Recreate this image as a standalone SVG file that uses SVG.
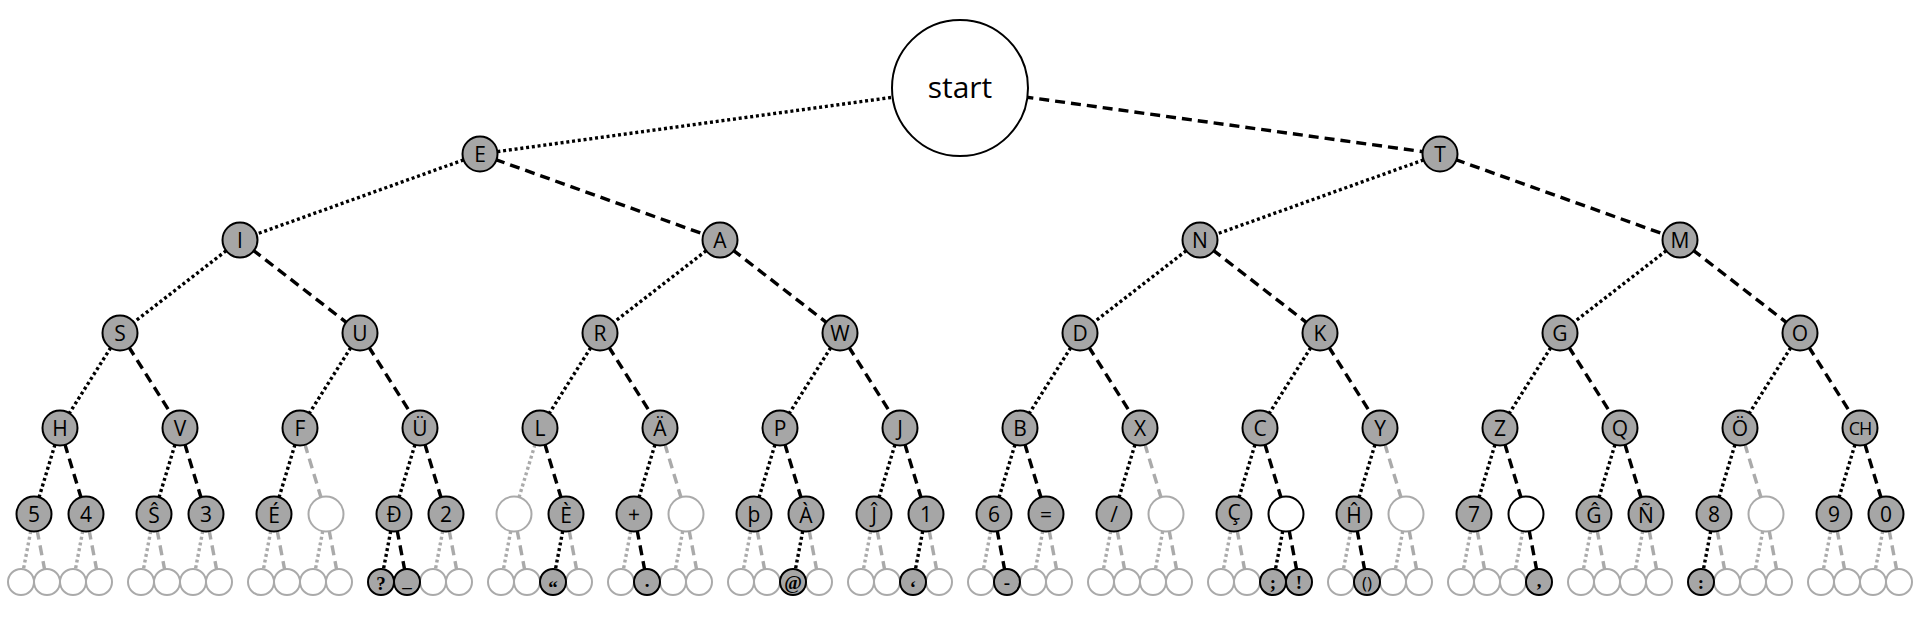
<svg xmlns="http://www.w3.org/2000/svg" width="1920" height="617" viewBox="0 0 1920 617">
<style>
.c{stroke-width:3.4;fill:none}
.dot{stroke-dasharray:3 2.8}
.dash{stroke-dasharray:10 6}
.k{stroke:#000}
.g{stroke:#aaa}
.f{fill:#a6a6a6;stroke:#000;stroke-width:2}
.w{fill:#fff;stroke:#000;stroke-width:2}
.e{fill:#fff;stroke:#aaa;stroke-width:2}
text{font-family:"Open Sans","DejaVu Sans",sans-serif;font-size:21px;text-anchor:middle;dominant-baseline:central;fill:#000}
.s{font-family:"Liberation Serif","DejaVu Serif",serif;font-weight:bold;font-size:19px}
</style>
<rect width="1920" height="617" fill="#fff"/>
<g id="connectors" class="c">
<line class="c dot k" x1="960" y1="88" x2="480" y2="154"/>
<line class="c dash k" x1="960" y1="88" x2="1440" y2="154"/>
<line class="c dot k" x1="480" y1="154" x2="240" y2="240"/>
<line class="c dash k" x1="480" y1="154" x2="720" y2="240"/>
<line class="c dot k" x1="1440" y1="154" x2="1200" y2="240"/>
<line class="c dash k" x1="1440" y1="154" x2="1680" y2="240"/>
<line class="c dot k" x1="240" y1="240" x2="120" y2="333"/>
<line class="c dash k" x1="240" y1="240" x2="360" y2="333"/>
<line class="c dot k" x1="720" y1="240" x2="600" y2="333"/>
<line class="c dash k" x1="720" y1="240" x2="840" y2="333"/>
<line class="c dot k" x1="1200" y1="240" x2="1080" y2="333"/>
<line class="c dash k" x1="1200" y1="240" x2="1320" y2="333"/>
<line class="c dot k" x1="1680" y1="240" x2="1560" y2="333"/>
<line class="c dash k" x1="1680" y1="240" x2="1800" y2="333"/>
<line class="c dot k" x1="120" y1="333" x2="60" y2="428"/>
<line class="c dash k" x1="120" y1="333" x2="180" y2="428"/>
<line class="c dot k" x1="360" y1="333" x2="300" y2="428"/>
<line class="c dash k" x1="360" y1="333" x2="420" y2="428"/>
<line class="c dot k" x1="600" y1="333" x2="540" y2="428"/>
<line class="c dash k" x1="600" y1="333" x2="660" y2="428"/>
<line class="c dot k" x1="840" y1="333" x2="780" y2="428"/>
<line class="c dash k" x1="840" y1="333" x2="900" y2="428"/>
<line class="c dot k" x1="1080" y1="333" x2="1020" y2="428"/>
<line class="c dash k" x1="1080" y1="333" x2="1140" y2="428"/>
<line class="c dot k" x1="1320" y1="333" x2="1260" y2="428"/>
<line class="c dash k" x1="1320" y1="333" x2="1380" y2="428"/>
<line class="c dot k" x1="1560" y1="333" x2="1500" y2="428"/>
<line class="c dash k" x1="1560" y1="333" x2="1620" y2="428"/>
<line class="c dot k" x1="1800" y1="333" x2="1740" y2="428"/>
<line class="c dash k" x1="1800" y1="333" x2="1860" y2="428"/>
<line class="c dot k" x1="60" y1="428" x2="34" y2="514"/>
<line class="c dash k" x1="60" y1="428" x2="86" y2="514"/>
<line class="c dot k" x1="180" y1="428" x2="154" y2="514"/>
<line class="c dash k" x1="180" y1="428" x2="206" y2="514"/>
<line class="c dot k" x1="300" y1="428" x2="274" y2="514"/>
<line class="c dash g" x1="300" y1="428" x2="326" y2="514"/>
<line class="c dot k" x1="420" y1="428" x2="394" y2="514"/>
<line class="c dash k" x1="420" y1="428" x2="446" y2="514"/>
<line class="c dot g" x1="540" y1="428" x2="514" y2="514"/>
<line class="c dash k" x1="540" y1="428" x2="566" y2="514"/>
<line class="c dot k" x1="660" y1="428" x2="634" y2="514"/>
<line class="c dash g" x1="660" y1="428" x2="686" y2="514"/>
<line class="c dot k" x1="780" y1="428" x2="754" y2="514"/>
<line class="c dash k" x1="780" y1="428" x2="806" y2="514"/>
<line class="c dot k" x1="900" y1="428" x2="874" y2="514"/>
<line class="c dash k" x1="900" y1="428" x2="926" y2="514"/>
<line class="c dot k" x1="1020" y1="428" x2="994" y2="514"/>
<line class="c dash k" x1="1020" y1="428" x2="1046" y2="514"/>
<line class="c dot k" x1="1140" y1="428" x2="1114" y2="514"/>
<line class="c dash g" x1="1140" y1="428" x2="1166" y2="514"/>
<line class="c dot k" x1="1260" y1="428" x2="1234" y2="514"/>
<line class="c dash k" x1="1260" y1="428" x2="1286" y2="514"/>
<line class="c dot k" x1="1380" y1="428" x2="1354" y2="514"/>
<line class="c dash g" x1="1380" y1="428" x2="1406" y2="514"/>
<line class="c dot k" x1="1500" y1="428" x2="1474" y2="514"/>
<line class="c dash k" x1="1500" y1="428" x2="1526" y2="514"/>
<line class="c dot k" x1="1620" y1="428" x2="1594" y2="514"/>
<line class="c dash k" x1="1620" y1="428" x2="1646" y2="514"/>
<line class="c dot k" x1="1740" y1="428" x2="1714" y2="514"/>
<line class="c dash g" x1="1740" y1="428" x2="1766" y2="514"/>
<line class="c dot k" x1="1860" y1="428" x2="1834" y2="514"/>
<line class="c dash k" x1="1860" y1="428" x2="1886" y2="514"/>
<line class="c dot g" x1="34" y1="514" x2="21" y2="582"/>
<line class="c dash g" x1="34" y1="514" x2="47" y2="582"/>
<line class="c dot g" x1="86" y1="514" x2="73" y2="582"/>
<line class="c dash g" x1="86" y1="514" x2="99" y2="582"/>
<line class="c dot g" x1="154" y1="514" x2="141" y2="582"/>
<line class="c dash g" x1="154" y1="514" x2="167" y2="582"/>
<line class="c dot g" x1="206" y1="514" x2="193" y2="582"/>
<line class="c dash g" x1="206" y1="514" x2="219" y2="582"/>
<line class="c dot g" x1="274" y1="514" x2="261" y2="582"/>
<line class="c dash g" x1="274" y1="514" x2="287" y2="582"/>
<line class="c dot g" x1="326" y1="514" x2="313" y2="582"/>
<line class="c dash g" x1="326" y1="514" x2="339" y2="582"/>
<line class="c dot k" x1="394" y1="514" x2="381" y2="582"/>
<line class="c dash k" x1="394" y1="514" x2="407" y2="582"/>
<line class="c dot g" x1="446" y1="514" x2="433" y2="582"/>
<line class="c dash g" x1="446" y1="514" x2="459" y2="582"/>
<line class="c dot g" x1="514" y1="514" x2="501" y2="582"/>
<line class="c dash g" x1="514" y1="514" x2="527" y2="582"/>
<line class="c dot k" x1="566" y1="514" x2="553" y2="582"/>
<line class="c dash g" x1="566" y1="514" x2="579" y2="582"/>
<line class="c dot g" x1="634" y1="514" x2="621" y2="582"/>
<line class="c dash k" x1="634" y1="514" x2="647" y2="582"/>
<line class="c dot g" x1="686" y1="514" x2="673" y2="582"/>
<line class="c dash g" x1="686" y1="514" x2="699" y2="582"/>
<line class="c dot g" x1="754" y1="514" x2="741" y2="582"/>
<line class="c dash g" x1="754" y1="514" x2="767" y2="582"/>
<line class="c dot k" x1="806" y1="514" x2="793" y2="582"/>
<line class="c dash g" x1="806" y1="514" x2="819" y2="582"/>
<line class="c dot g" x1="874" y1="514" x2="861" y2="582"/>
<line class="c dash g" x1="874" y1="514" x2="887" y2="582"/>
<line class="c dot k" x1="926" y1="514" x2="913" y2="582"/>
<line class="c dash g" x1="926" y1="514" x2="939" y2="582"/>
<line class="c dot g" x1="994" y1="514" x2="981" y2="582"/>
<line class="c dash k" x1="994" y1="514" x2="1007" y2="582"/>
<line class="c dot g" x1="1046" y1="514" x2="1033" y2="582"/>
<line class="c dash g" x1="1046" y1="514" x2="1059" y2="582"/>
<line class="c dot g" x1="1114" y1="514" x2="1101" y2="582"/>
<line class="c dash g" x1="1114" y1="514" x2="1127" y2="582"/>
<line class="c dot g" x1="1166" y1="514" x2="1153" y2="582"/>
<line class="c dash g" x1="1166" y1="514" x2="1179" y2="582"/>
<line class="c dot g" x1="1234" y1="514" x2="1221" y2="582"/>
<line class="c dash g" x1="1234" y1="514" x2="1247" y2="582"/>
<line class="c dot k" x1="1286" y1="514" x2="1273" y2="582"/>
<line class="c dash k" x1="1286" y1="514" x2="1299" y2="582"/>
<line class="c dot g" x1="1354" y1="514" x2="1341" y2="582"/>
<line class="c dash k" x1="1354" y1="514" x2="1367" y2="582"/>
<line class="c dot g" x1="1406" y1="514" x2="1393" y2="582"/>
<line class="c dash g" x1="1406" y1="514" x2="1419" y2="582"/>
<line class="c dot g" x1="1474" y1="514" x2="1461" y2="582"/>
<line class="c dash g" x1="1474" y1="514" x2="1487" y2="582"/>
<line class="c dot g" x1="1526" y1="514" x2="1513" y2="582"/>
<line class="c dash k" x1="1526" y1="514" x2="1539" y2="582"/>
<line class="c dot g" x1="1594" y1="514" x2="1581" y2="582"/>
<line class="c dash g" x1="1594" y1="514" x2="1607" y2="582"/>
<line class="c dot g" x1="1646" y1="514" x2="1633" y2="582"/>
<line class="c dash g" x1="1646" y1="514" x2="1659" y2="582"/>
<line class="c dot k" x1="1714" y1="514" x2="1701" y2="582"/>
<line class="c dash g" x1="1714" y1="514" x2="1727" y2="582"/>
<line class="c dot g" x1="1766" y1="514" x2="1753" y2="582"/>
<line class="c dash g" x1="1766" y1="514" x2="1779" y2="582"/>
<line class="c dot g" x1="1834" y1="514" x2="1821" y2="582"/>
<line class="c dash g" x1="1834" y1="514" x2="1847" y2="582"/>
<line class="c dot g" x1="1886" y1="514" x2="1873" y2="582"/>
<line class="c dash g" x1="1886" y1="514" x2="1899" y2="582"/>
</g>
<g id="n-start"><circle cx="960" cy="88" r="68" class="w"/><text x="960" y="86" style="font-size:30px">start</text></g>
<g id="n-E"><circle cx="480" cy="154" r="17.5" class="f"/><text x="480" y="154">E</text></g>
<g id="n-T"><circle cx="1440" cy="154" r="17.5" class="f"/><text x="1440" y="154">T</text></g>
<g id="n-I"><circle cx="240" cy="240" r="17.5" class="f"/><text x="240" y="240">I</text></g>
<g id="n-A"><circle cx="720" cy="240" r="17.5" class="f"/><text x="720" y="240">A</text></g>
<g id="n-N"><circle cx="1200" cy="240" r="17.5" class="f"/><text x="1200" y="240">N</text></g>
<g id="n-M"><circle cx="1680" cy="240" r="17.5" class="f"/><text x="1680" y="240">M</text></g>
<g id="n-S"><circle cx="120" cy="333" r="17.5" class="f"/><text x="120" y="333">S</text></g>
<g id="n-U"><circle cx="360" cy="333" r="17.5" class="f"/><text x="360" y="333">U</text></g>
<g id="n-R"><circle cx="600" cy="333" r="17.5" class="f"/><text x="600" y="333">R</text></g>
<g id="n-W"><circle cx="840" cy="333" r="17.5" class="f"/><text x="840" y="333">W</text></g>
<g id="n-D"><circle cx="1080" cy="333" r="17.5" class="f"/><text x="1080" y="333">D</text></g>
<g id="n-K"><circle cx="1320" cy="333" r="17.5" class="f"/><text x="1320" y="333">K</text></g>
<g id="n-G"><circle cx="1560" cy="333" r="17.5" class="f"/><text x="1560" y="333">G</text></g>
<g id="n-O"><circle cx="1800" cy="333" r="17.5" class="f"/><text x="1800" y="333">O</text></g>
<g id="n-H"><circle cx="60" cy="428" r="17.5" class="f"/><text x="60" y="428">H</text></g>
<g id="n-V"><circle cx="180" cy="428" r="17.5" class="f"/><text x="180" y="428">V</text></g>
<g id="n-F"><circle cx="300" cy="428" r="17.5" class="f"/><text x="300" y="428">F</text></g>
<g id="n-Uuml"><circle cx="420" cy="428" r="17.5" class="f"/><text x="420" y="428">Ü</text></g>
<g id="n-L"><circle cx="540" cy="428" r="17.5" class="f"/><text x="540" y="428">L</text></g>
<g id="n-Auml"><circle cx="660" cy="428" r="17.5" class="f"/><text x="660" y="428">Ä</text></g>
<g id="n-P"><circle cx="780" cy="428" r="17.5" class="f"/><text x="780" y="428">P</text></g>
<g id="n-J"><circle cx="900" cy="428" r="17.5" class="f"/><text x="900" y="428">J</text></g>
<g id="n-B"><circle cx="1020" cy="428" r="17.5" class="f"/><text x="1020" y="428">B</text></g>
<g id="n-X"><circle cx="1140" cy="428" r="17.5" class="f"/><text x="1140" y="428">X</text></g>
<g id="n-C"><circle cx="1260" cy="428" r="17.5" class="f"/><text x="1260" y="428">C</text></g>
<g id="n-Y"><circle cx="1380" cy="428" r="17.5" class="f"/><text x="1380" y="428">Y</text></g>
<g id="n-Z"><circle cx="1500" cy="428" r="17.5" class="f"/><text x="1500" y="428">Z</text></g>
<g id="n-Q"><circle cx="1620" cy="428" r="17.5" class="f"/><text x="1620" y="428">Q</text></g>
<g id="n-Ouml"><circle cx="1740" cy="428" r="17.5" class="f"/><text x="1740" y="428">Ö</text></g>
<g id="n-CH"><circle cx="1860" cy="428" r="17.5" class="f"/><text x="1860" y="428" style="font-size:18px;letter-spacing:-1px">CH</text></g>
<g id="n-5"><circle cx="34" cy="514" r="17.5" class="f"/><text x="34" y="514">5</text></g>
<g id="n-4"><circle cx="86" cy="514" r="17.5" class="f"/><text x="86" y="514">4</text></g>
<g id="n-Scirc"><circle cx="154" cy="514" r="17.5" class="f"/><text x="154" y="515">Ŝ</text></g>
<g id="n-3"><circle cx="206" cy="514" r="17.5" class="f"/><text x="206" y="514">3</text></g>
<g id="n-Eacute"><circle cx="274" cy="514" r="17.5" class="f"/><text x="274" y="515">É</text></g>
<g id="n-e5-326"><circle cx="326" cy="514" r="17.5" class="e"/></g>
<g id="n-Eth"><circle cx="394" cy="514" r="17.5" class="f"/><text x="394" y="514">Đ</text></g>
<g id="n-2"><circle cx="446" cy="514" r="17.5" class="f"/><text x="446" y="514">2</text></g>
<g id="n-e5-514"><circle cx="514" cy="514" r="17.5" class="e"/></g>
<g id="n-Egrave"><circle cx="566" cy="514" r="17.5" class="f"/><text x="566" y="515">È</text></g>
<g id="n-plus"><circle cx="634" cy="514" r="17.5" class="f"/><text x="634" y="514">+</text></g>
<g id="n-e5-686"><circle cx="686" cy="514" r="17.5" class="e"/></g>
<g id="n-thorn"><circle cx="754" cy="514" r="17.5" class="f"/><text x="754" y="514">þ</text></g>
<g id="n-Agrave"><circle cx="806" cy="514" r="17.5" class="f"/><text x="806" y="515">À</text></g>
<g id="n-Jcirc"><circle cx="874" cy="514" r="17.5" class="f"/><text x="874" y="515">Ĵ</text></g>
<g id="n-1"><circle cx="926" cy="514" r="17.5" class="f"/><text x="926" y="514">1</text></g>
<g id="n-6"><circle cx="994" cy="514" r="17.5" class="f"/><text x="994" y="514">6</text></g>
<g id="n-eq"><circle cx="1046" cy="514" r="17.5" class="f"/><text x="1046" y="514">=</text></g>
<g id="n-slash"><circle cx="1114" cy="514" r="17.5" class="f"/><text x="1114" y="514">/</text></g>
<g id="n-e5-1166"><circle cx="1166" cy="514" r="17.5" class="e"/></g>
<g id="n-Ccedil"><circle cx="1234" cy="514" r="17.5" class="f"/><text x="1234" y="512">Ç</text></g>
<g id="n-w5-1286"><circle cx="1286" cy="514" r="17.5" class="w"/></g>
<g id="n-Hcirc"><circle cx="1354" cy="514" r="17.5" class="f"/><text x="1354" y="515">Ĥ</text></g>
<g id="n-e5-1406"><circle cx="1406" cy="514" r="17.5" class="e"/></g>
<g id="n-7"><circle cx="1474" cy="514" r="17.5" class="f"/><text x="1474" y="514">7</text></g>
<g id="n-w5-1526"><circle cx="1526" cy="514" r="17.5" class="w"/></g>
<g id="n-Gcirc"><circle cx="1594" cy="514" r="17.5" class="f"/><text x="1594" y="515">Ĝ</text></g>
<g id="n-Ntilde"><circle cx="1646" cy="514" r="17.5" class="f"/><text x="1646" y="515">Ñ</text></g>
<g id="n-8"><circle cx="1714" cy="514" r="17.5" class="f"/><text x="1714" y="514">8</text></g>
<g id="n-e5-1766"><circle cx="1766" cy="514" r="17.5" class="e"/></g>
<g id="n-9"><circle cx="1834" cy="514" r="17.5" class="f"/><text x="1834" y="514">9</text></g>
<g id="n-0"><circle cx="1886" cy="514" r="17.5" class="f"/><text x="1886" y="514">0</text></g>
<g id="leaves-empty">
<circle cx="21" cy="582" r="13" class="e"/><circle cx="47" cy="582" r="13" class="e"/><circle cx="73" cy="582" r="13" class="e"/><circle cx="99" cy="582" r="13" class="e"/>
<circle cx="141" cy="582" r="13" class="e"/><circle cx="167" cy="582" r="13" class="e"/><circle cx="193" cy="582" r="13" class="e"/><circle cx="219" cy="582" r="13" class="e"/>
<circle cx="261" cy="582" r="13" class="e"/><circle cx="287" cy="582" r="13" class="e"/><circle cx="313" cy="582" r="13" class="e"/><circle cx="339" cy="582" r="13" class="e"/>
<circle cx="433" cy="582" r="13" class="e"/><circle cx="459" cy="582" r="13" class="e"/>
<circle cx="501" cy="582" r="13" class="e"/><circle cx="527" cy="582" r="13" class="e"/><circle cx="579" cy="582" r="13" class="e"/>
<circle cx="621" cy="582" r="13" class="e"/><circle cx="673" cy="582" r="13" class="e"/><circle cx="699" cy="582" r="13" class="e"/>
<circle cx="741" cy="582" r="13" class="e"/><circle cx="767" cy="582" r="13" class="e"/><circle cx="819" cy="582" r="13" class="e"/>
<circle cx="861" cy="582" r="13" class="e"/><circle cx="887" cy="582" r="13" class="e"/><circle cx="939" cy="582" r="13" class="e"/>
<circle cx="981" cy="582" r="13" class="e"/><circle cx="1033" cy="582" r="13" class="e"/><circle cx="1059" cy="582" r="13" class="e"/>
<circle cx="1101" cy="582" r="13" class="e"/><circle cx="1127" cy="582" r="13" class="e"/><circle cx="1153" cy="582" r="13" class="e"/><circle cx="1179" cy="582" r="13" class="e"/>
<circle cx="1221" cy="582" r="13" class="e"/><circle cx="1247" cy="582" r="13" class="e"/>
<circle cx="1341" cy="582" r="13" class="e"/><circle cx="1393" cy="582" r="13" class="e"/><circle cx="1419" cy="582" r="13" class="e"/>
<circle cx="1461" cy="582" r="13" class="e"/><circle cx="1487" cy="582" r="13" class="e"/><circle cx="1513" cy="582" r="13" class="e"/>
<circle cx="1581" cy="582" r="13" class="e"/><circle cx="1607" cy="582" r="13" class="e"/><circle cx="1633" cy="582" r="13" class="e"/><circle cx="1659" cy="582" r="13" class="e"/>
<circle cx="1727" cy="582" r="13" class="e"/><circle cx="1753" cy="582" r="13" class="e"/><circle cx="1779" cy="582" r="13" class="e"/>
<circle cx="1821" cy="582" r="13" class="e"/><circle cx="1847" cy="582" r="13" class="e"/><circle cx="1873" cy="582" r="13" class="e"/><circle cx="1899" cy="582" r="13" class="e"/>
</g>
<g id="n-question"><circle cx="381" cy="582" r="13" class="f"/><text x="381" y="583" class="s">?</text></g>
<g id="n-underscore"><circle cx="407" cy="582" r="13" class="f"/><text x="407" y="580" class="s">_</text></g>
<g id="n-ldquo"><circle cx="553" cy="582" r="13" class="f"/><text x="553" y="587" class="s">“</text></g>
<g id="n-period"><circle cx="647" cy="582" r="13" class="f"/><text x="647" y="580" class="s">.</text></g>
<g id="n-at"><circle cx="793" cy="582" r="13" class="f"/><text x="793" y="582" class="s">@</text></g>
<g id="n-lsquo"><circle cx="913" cy="582" r="13" class="f"/><text x="913" y="587" class="s">‘</text></g>
<g id="n-hyphen"><circle cx="1007" cy="582" r="13" class="f"/><text x="1007" y="582" class="s">-</text></g>
<g id="n-semicolon"><circle cx="1273" cy="582" r="13" class="f"/><text x="1273" y="582" class="s">;</text></g>
<g id="n-excl"><circle cx="1299" cy="582" r="13" class="f"/><text x="1299" y="582" class="s">!</text></g>
<g id="n-parens"><circle cx="1367" cy="582" r="13" class="f"/><text x="1367" y="582" style="font-size:17px">()</text></g>
<g id="n-comma"><circle cx="1539" cy="582" r="13" class="f"/><text x="1539" y="580" class="s">,</text></g>
<g id="n-colon"><circle cx="1701" cy="582" r="13" class="f"/><text x="1701" y="582" class="s">:</text></g>
</svg>
